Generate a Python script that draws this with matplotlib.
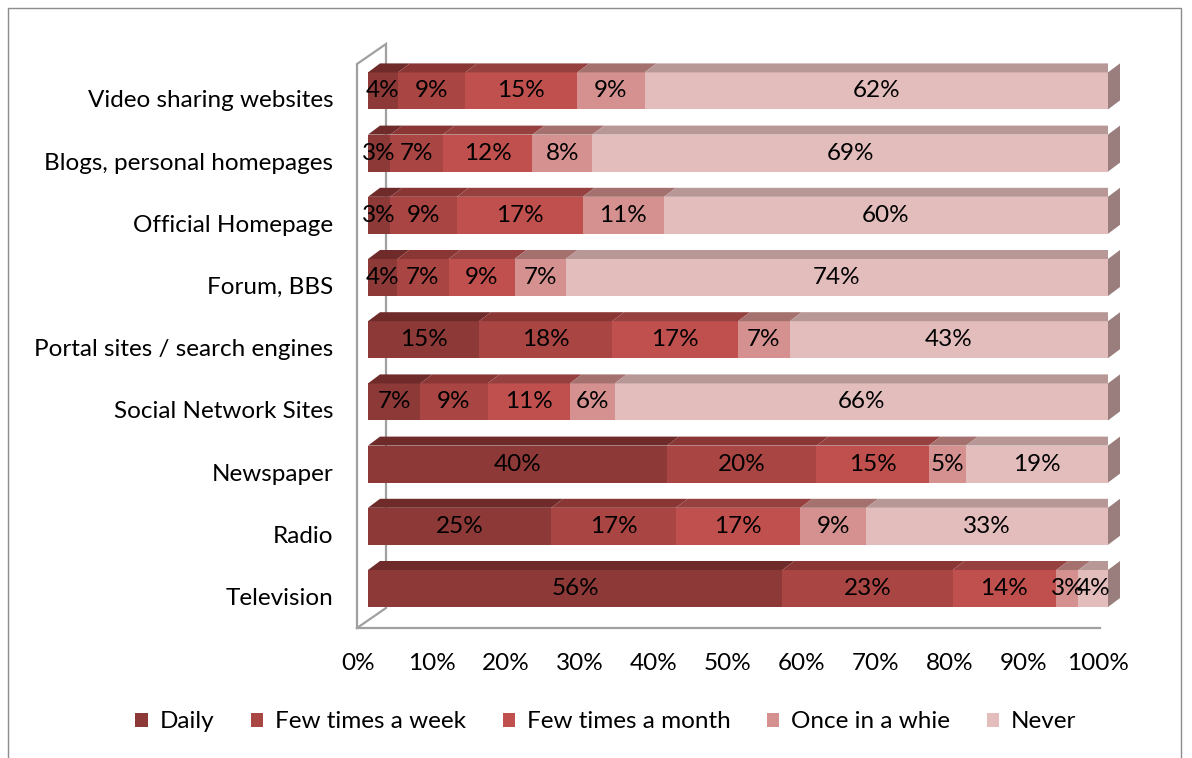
import matplotlib
matplotlib.use('Agg')
from matplotlib import pyplot as plt
from matplotlib import transforms
from matplotlib.patches import Polygon, Patch, Rectangle
import numpy as np

categories = ['Television', 'Radio', 'Newspaper', 'Social Network Sites',
              'Portal sites / search engines', 'Forum, BBS', 'Official Homepage',
              'Blogs, personal homepages', 'Video sharing websites']
series = ['Daily', 'Few times a week', 'Few times a month',
          'Once in a whie', 'Never']
daily = [56, 25, 40, 7, 15, 4, 3, 3, 4]
week = [23, 17, 20, 9, 18, 7, 9, 7, 9]
month = [14, 17, 15, 11, 17, 9, 17, 12, 15]
once = [3, 9, 5, 6, 7, 7, 11, 8, 9]
never = [4, 33, 19, 66, 43, 74, 60, 69, 62]
xticks = np.arange(0, 1.01, 0.1)
xticklabels = ['{}%'.format(int(round(t * 100))) for t in xticks]

front = ['#8C3937', '#A94543', '#C0504D', '#D4918F', '#E3BCBC']
top = ['#6E2B2A', '#8A3634', '#964140', '#A5716F', '#B89797']
side = '#9A7D7D'

plt.rcParams['font.family'] = ['Lato', 'DejaVu Sans']
FS = 17.5

W, H, DPI = 1192, 758, 100
fig = plt.figure(figsize=(W / DPI, H / DPI), dpi=DPI)

# outer chart border
fig.patches.append(Rectangle((8 / W, -0.05), 1173 / W, 1.05 - 8 / H,
                             transform=fig.transFigure, fill=False,
                             edgecolor='#8c8c8c', linewidth=1))

ax_l, ax_r, ax_t, ax_b = 368, 1108, 44, 628
ax = fig.add_axes([ax_l / W, 1 - ax_b / H, (ax_r - ax_l) / W, (ax_b - ax_t) / H])
ax.set_xlim(0, 1)
ax.set_ylim(-0.635, 8.754)
for s in ax.spines.values():
    s.set_visible(False)

# pixels -> data units
sx = 1.0 / (ax_r - ax_l)
sy = (8.754 + 0.635) / (ax_b - ax_t)

data = np.array([daily, week, month, once, never], dtype=float)
frac = data / data.sum(axis=0)
ypos = np.arange(len(categories))
bh = 37 * sy
ddx, ddy = 12 * sx, 9 * sy

# wall and floor (offsets in pixels from the plot box)
wall = '#a0a0a0'
fx0 = -11 * sx
fdx, fdy = 29 * sx, 20 * sy
y0, y1 = ax.get_ylim()
ax.plot([fx0, fx0, fx0 + fdx, fx0 + fdx, fx0],
        [y0, y1 - fdy, y1, y0 + fdy, y0], color=wall, lw=1.6,
        clip_on=False, solid_joinstyle='miter')
ax.plot([fx0, 1 - 8 * sx], [y0, y0], color=wall, lw=1.6, clip_on=False)

left = np.zeros(len(categories))
for k in range(len(series)):
    w = frac[k]
    ax.barh(ypos, w, left=left, height=bh, color=front[k], linewidth=0,
            label=series[k], zorder=3)
    for i in range(len(categories)):
        x0, x1 = left[i], left[i] + w[i]
        yt = ypos[i] + bh / 2
        ax.add_patch(Polygon([(x0, yt), (x1, yt), (x1 + ddx, yt + ddy),
                              (x0 + ddx, yt + ddy)], closed=True,
                             facecolor=top[k], linewidth=0, zorder=3))
        ax.text((x0 + x1) / 2, ypos[i], '{}%'.format(int(data[k, i])),
                ha='center', va='center', fontsize=FS, color='black',
                zorder=5)
    left = left + w

for i in range(len(categories)):
    xe = left[i]
    yb, yt = ypos[i] - bh / 2, ypos[i] + bh / 2
    ax.add_patch(Polygon([(xe, yb), (xe, yt), (xe + ddx, yt + ddy),
                          (xe + ddx, yb + ddy)], closed=True,
                         facecolor=side, linewidth=0, zorder=3,
                         clip_on=False))

ax.set_yticks(ypos)
ax.set_yticklabels(categories, fontsize=FS)
ax.set_xticks(xticks)
ax.set_xticklabels(xticklabels, fontsize=FS)
ax.tick_params(length=0)
ax.tick_params(axis='y', pad=25)
ax.tick_params(axis='x', pad=18)
for lab in ax.get_yticklabels():
    lab.set_transform(lab.get_transform() +
                      transforms.ScaledTranslation(0, -0.08, fig.dpi_scale_trans))
for lab in ax.get_xticklabels():
    lab.set_transform(lab.get_transform() +
                      transforms.ScaledTranslation(-0.1, 0, fig.dpi_scale_trans))

handles = [Patch(facecolor=c, edgecolor='none') for c in front]
fig.legend(handles, series, loc='center', ncol=5, frameon=False,
           bbox_to_anchor=(606 / W, 1 - 722 / H), fontsize=FS,
           handlelength=0.5, handleheight=0.5, handletextpad=0.5,
           columnspacing=1.5)

fig.savefig('out.png', dpi=DPI)
